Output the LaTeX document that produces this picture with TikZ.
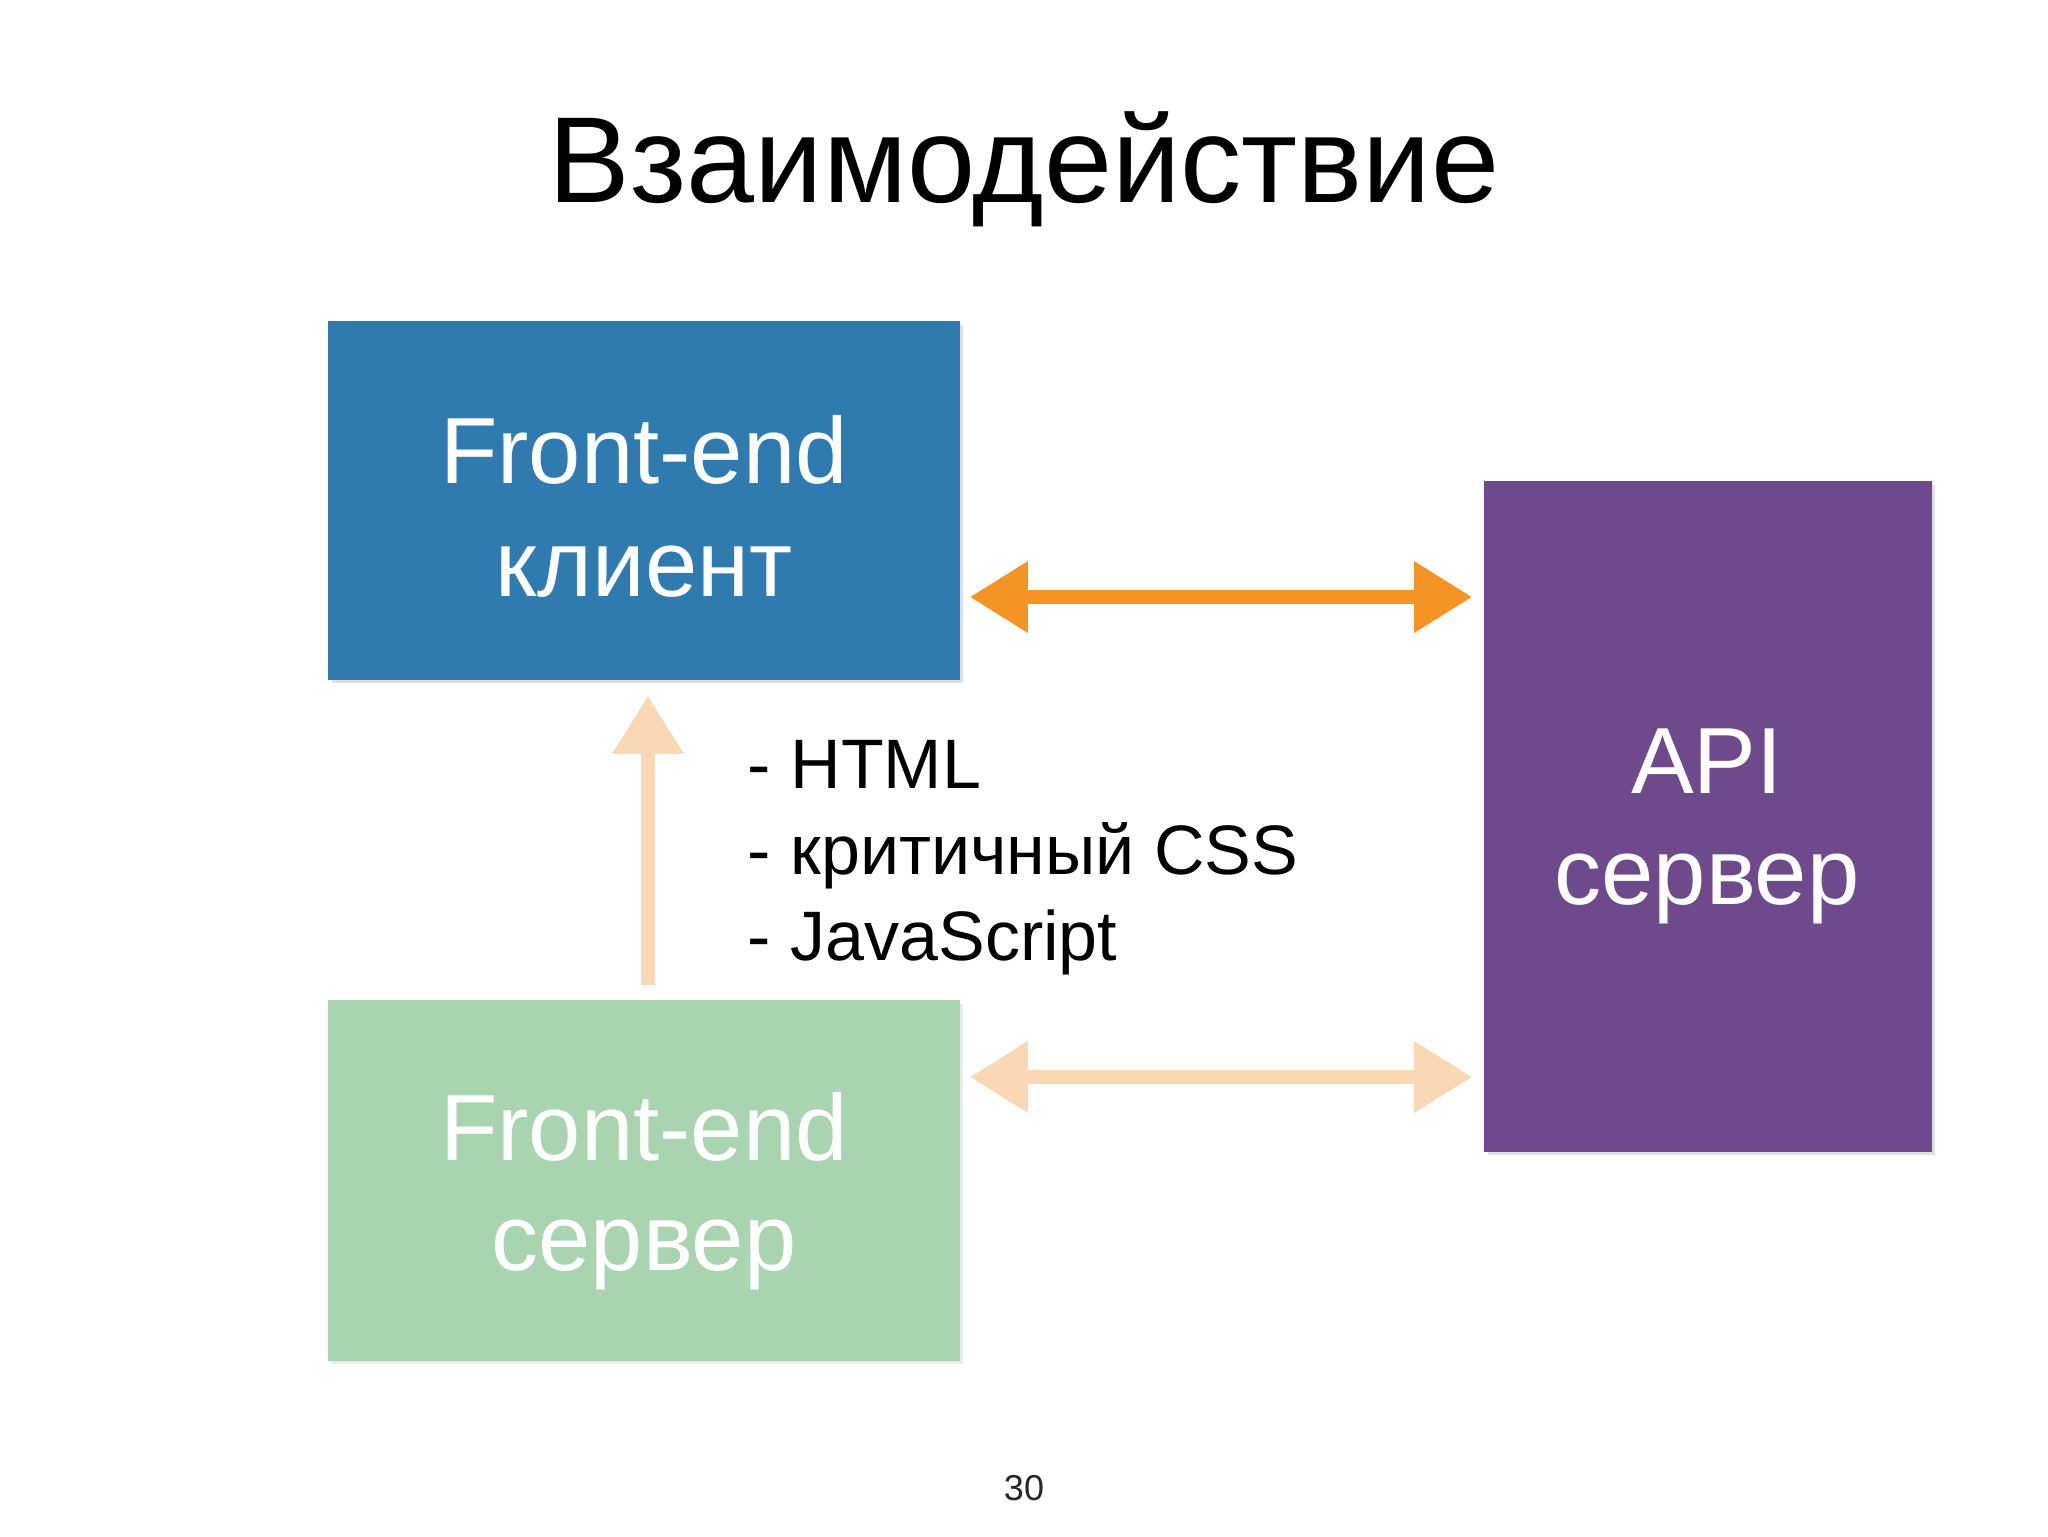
\documentclass[tikz,border=0pt]{standalone}
\usepackage{fontspec}
\setmainfont{Liberation Sans}
\usetikzlibrary{arrows.meta}
\definecolor{boxblue}{HTML}{2F7BB0}
\definecolor{boxgreen}{HTML}{A9D4B0}
\definecolor{boxpurple}{HTML}{6E4A8D}
\definecolor{arrorange}{HTML}{F39424}
\definecolor{arrpeach}{HTML}{FAD8B4}
\tikzset{
  card/.style={rectangle, inner sep=0pt, draw=none},
  cardtext/.style={text=white, anchor=base, inner sep=0pt, font=\fontsize{23.5}{28}\selectfont},
  bigarrow/.style={line width=3.3pt, {Triangle[length=14.5pt,width=17pt]}-{Triangle[length=14.5pt,width=17pt]}},
  uparrow/.style={line width=3.3pt, -{Triangle[length=14.5pt,width=17pt]}},
  listtext/.style={anchor=base west, inner sep=0pt, font=\fontsize{17.5}{21}\selectfont},
}
\begin{document}
\begin{tikzpicture}[x=0.25pt,y=-0.25pt]
\useasboundingbox[fill=white] (0,0) rectangle (2048,1536);
% title
\node[anchor=base, inner sep=0pt, font=\fontsize{30.6}{36}\selectfont] (title) at (1024,202) {Взаимодействие};
% cards
\fill[black!12] (332,325) rectangle (963,683);
\node[card, fill=boxblue, minimum width=158pt, minimum height=89.75pt] (blue) at (644,500.5) {};
\fill[black!8] (332,1004) rectangle (963,1364);
\node[card, fill=boxgreen, minimum width=158pt, minimum height=90.25pt] (green) at (644,1180.5) {};
\fill[black!12] (1488,485) rectangle (1935,1155);
\node[card, fill=boxpurple, minimum width=112pt, minimum height=167.75pt] (purple) at (1708,816.5) {};
% card texts
\node[cardtext] (blue1) at (644,483) {Front-end};
\node[cardtext] (blue2) at (644,596) {клиент};
\node[cardtext] (green1) at (644,1160) {Front-end};
\node[cardtext] (green2) at (644,1270) {сервер};
\node[cardtext] (purple1) at (1707,793) {API};
\node[cardtext] (purple2) at (1707,904) {сервер};
% list
\node[listtext] (l1) at (747,788) {- HTML};
\node[listtext] (l2) at (747,874) {- критичный CSS};
\node[listtext] (l3) at (747,960) {- JavaScript};
% arrows
\draw[bigarrow, draw=arrorange, fill=arrorange, shorten <=2.25pt, shorten >=2.75pt] (blue.east |- 0,597) -- (purple.west |- 0,597);
\draw[bigarrow, draw=arrpeach, fill=arrpeach, shorten <=2.25pt, shorten >=2.75pt] (green.east |- 0,1077) -- (purple.west |- 0,1077);
\draw[uparrow, draw=arrpeach, fill=arrpeach, shorten <=3.5pt, shorten >=3.75pt] (green.north -| 648,0) -- (blue.south -| 648,0);
% page number
\node[anchor=base, inner sep=0pt, font=\fontsize{9}{11}\selectfont, text=black!85] (pagenum) at (1024,1500) {30};
\end{tikzpicture}
\end{document}
